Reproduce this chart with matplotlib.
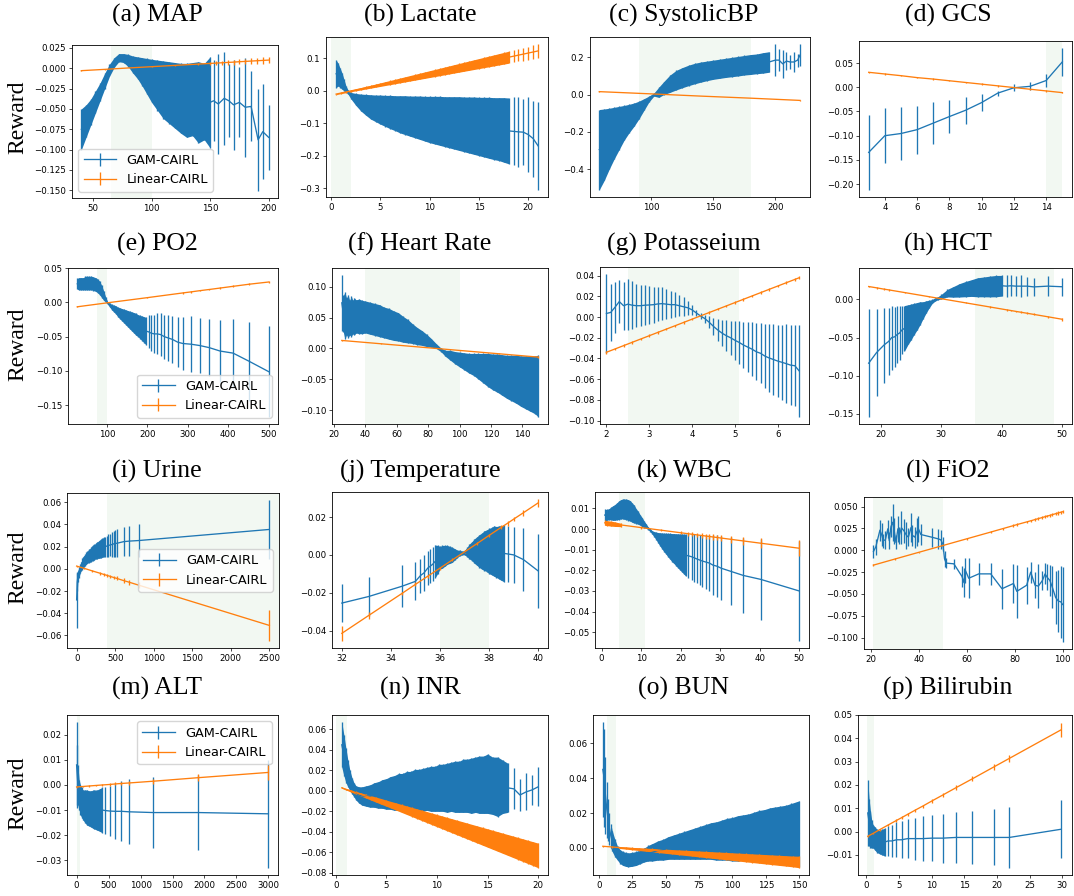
import numpy as np
import matplotlib
matplotlib.use("Agg")
import matplotlib.pyplot as plt

W, H, DPI = 1074, 896, 100
BLUE, ORANGE = "#1f77b4", "#ff7f0e"
SERIF = ["Liberation Serif", "DejaVu Serif"]

# ---------------- data ----------------
# (a) MAP
map_x = [40, 44, 48, 52, 56, 60, 64, 68, 72, 76, 80, 84, 88, 92, 96, 100, 105, 110, 115, 120,
         125, 130, 135, 140, 145, 150, 153, 157, 162, 166, 170, 175, 180, 185, 191, 195, 200]
map_mean = [-0.075, -0.065, -0.054, -0.0415, -0.029, -0.0155, -0.0025, 0.007, 0.013, 0.0125,
            0.0095, 0.0045, 0.0005, -0.0045, -0.010, -0.0155, -0.021, -0.0265, -0.030, -0.0335,
            -0.037, -0.0395, -0.038, -0.042, -0.041, -0.042, -0.040, -0.044, -0.037, -0.040,
            -0.045, -0.042, -0.048, -0.047, -0.088, -0.078, -0.085]
map_err = [0.025, 0.020, 0.016, 0.0135, 0.011, 0.0095, 0.0075, 0.006, 0.005, 0.0055,
           0.0075, 0.0105, 0.0135, 0.0175, 0.022, 0.0265, 0.031, 0.0355, 0.038, 0.0405,
           0.043, 0.0455, 0.045, 0.050, 0.047, 0.056, 0.050, 0.061, 0.057, 0.045,
           0.055, 0.043, 0.061, 0.043, 0.063, 0.058, 0.040]
map_lin_x = [40, 60, 80, 100, 120, 140, 150, 155, 160, 165, 170, 175, 180, 185, 190, 195, 200]
map_lin_y = [-0.003, -0.0014, 0.0003, 0.0019, 0.0035, 0.0051, 0.0059, 0.0063, 0.0067, 0.0071,
             0.0075, 0.0080, 0.0084, 0.0088, 0.0092, 0.0096, 0.0100]
map_lin_err = [0.0005, 0.0005, 0.0005, 0.0006, 0.0008, 0.0012, 0.002, 0.0022, 0.0025, 0.0027,
               0.003, 0.003, 0.0032, 0.0034, 0.0036, 0.0038, 0.004]

# (b) Lactate
lac_x = [0.5, 0.7, 0.9, 1.1, 1.3, 1.5, 1.7, 2.0, 2.5, 3, 3.5, 4, 4.5, 5, 5.5, 6, 6.5, 7, 7.5, 8,
         8.5, 9, 9.5, 10, 10.5, 11, 11.5, 12, 12.5, 13, 13.5, 14, 14.5, 15, 15.5, 16, 16.5, 17,
         17.5, 18, 18.5, 19, 19.5, 20, 20.5, 21]
lac_mean = [0.0525, 0.05, 0.04, 0.03, 0.0175, 0.005, -0.0035, -0.015, -0.0265, -0.036,
            -0.043, -0.0495, -0.054, -0.058, -0.062, -0.0655, -0.069, -0.0725, -0.075, -0.078,
            -0.0805, -0.083, -0.086, -0.0885, -0.0905, -0.0925, -0.095, -0.097, -0.099, -0.101,
            -0.1035, -0.1055, -0.1075, -0.110, -0.112, -0.114, -0.1165, -0.118, -0.1205, -0.1235,
            -0.125, -0.1265, -0.1275, -0.135, -0.1475, -0.17]
lac_err = [0.0425, 0.035, 0.03, 0.025, 0.0175, 0.01, 0.0065, 0.010, 0.0185, 0.026,
           0.032, 0.0375, 0.041, 0.045, 0.048, 0.0515, 0.054, 0.0575, 0.060, 0.062,
           0.0645, 0.067, 0.069, 0.0715, 0.0735, 0.0755, 0.077, 0.079, 0.081, 0.083,
           0.0845, 0.0865, 0.0885, 0.090, 0.092, 0.094, 0.0955, 0.097, 0.0995, 0.1015,
           0.105, 0.1085, 0.1025, 0.115, 0.1175, 0.135]
lac_lin_x = [0.5, 1.0, 1.5, 2.0, 2.5, 3.0, 3.5, 4.0, 4.5, 5.0, 5.5, 6.0, 6.5, 7.0, 7.5, 8.0,
             8.5, 9.0, 9.5, 10.0, 10.5, 11.0, 11.5, 12.0, 12.5, 13.0, 13.5, 14.0, 14.5, 15.0,
             15.5, 16.0, 16.5, 17.0, 17.5, 18.0, 18.5, 19.0, 19.5, 20.0, 20.5, 21.0]
lac_lin_y = [-0.0100, -0.0068, -0.0035, -0.0003, 0.0030, 0.0062, 0.0095, 0.0127, 0.0160, 0.0192,
             0.0225, 0.0257, 0.0289, 0.0322, 0.0354, 0.0387, 0.0419, 0.0452, 0.0484, 0.0517,
             0.0549, 0.0581, 0.0614, 0.0646, 0.0679, 0.0711, 0.0744, 0.0776, 0.0809, 0.0841,
             0.0874, 0.0906, 0.0938, 0.0971, 0.1003, 0.1036, 0.1068, 0.1101, 0.1133, 0.1166,
             0.1198, 0.1231]
lac_lin_err = [0.0015, 0.0018, 0.0022, 0.0026, 0.003, 0.0035, 0.004, 0.0045, 0.005, 0.0055,
               0.006, 0.0065, 0.007, 0.0075, 0.008, 0.0085, 0.009, 0.0095, 0.010, 0.0105,
               0.011, 0.0115, 0.012, 0.0125, 0.013, 0.0135, 0.014, 0.0145, 0.015, 0.0155,
               0.016, 0.0165, 0.017, 0.0175, 0.018, 0.0185, 0.019, 0.0195, 0.0198, 0.020,
               0.0202, 0.0205]

# (c) SystolicBP
sbp_x = [58, 62, 66, 70, 74, 78, 82, 86, 90, 94, 98, 102, 106, 110, 115, 120, 125, 130, 135, 140,
         145, 150, 155, 160, 165, 170, 175, 180, 185, 190, 195, 200, 203, 206, 209, 212, 215, 218, 220]
sbp_mean = [-0.295, -0.2685, -0.2365, -0.2065, -0.179, -0.1515, -0.1285, -0.1075, -0.0825, -0.0535,
            -0.024, 0.0, 0.0125, 0.035, 0.0585, 0.0775, 0.091, 0.103, 0.113, 0.121,
            0.1275, 0.1335, 0.1385, 0.1435, 0.148, 0.1525, 0.1575, 0.1615, 0.165, 0.17,
            0.175, 0.185, 0.185, 0.165, 0.18, 0.175, 0.175, 0.185, 0.2125]
sbp_err = [0.215, 0.1915, 0.1635, 0.1385, 0.116, 0.0935, 0.0765, 0.0625, 0.0475, 0.0315,
           0.016, 0.008, 0.0275, 0.035, 0.0465, 0.0525, 0.054, 0.055, 0.055, 0.054,
           0.0525, 0.0515, 0.0515, 0.0515, 0.052, 0.0525, 0.0525, 0.0535, 0.053, 0.055,
           0.055, 0.085, 0.06, 0.075, 0.05, 0.035, 0.055, 0.035, 0.0575]
sbp_lin_x = [58, 100, 140, 180, 220]
sbp_lin_y = [0.016, 0.004, -0.008, -0.019, -0.031]
sbp_lin_err = [0.001, 0.001, 0.001, 0.001, 0.0015]

# (d) GCS
gcs_x = [3, 4, 5, 6, 7, 8, 9, 10, 11, 12, 13, 14, 15]
gcs_mean = [-0.1345, -0.100, -0.0955, -0.0875, -0.074, -0.0605, -0.0475, -0.0315, -0.012,
            -0.001, 0.002, 0.014, 0.0525]
gcs_err = [0.0775, 0.057, 0.0545, 0.0495, 0.043, 0.0345, 0.0275, 0.0185, 0.005, 0.007,
           0.008, 0.014, 0.0285]
gcs_lin_x = [3, 4, 5, 6, 7, 8, 9, 10, 11, 12, 13, 14, 15]
gcs_lin_y = [0.031, 0.0275, 0.024, 0.020, 0.017, 0.0135, 0.010, 0.0065, 0.003, -0.0005,
             -0.004, -0.0075, -0.011]
gcs_lin_err = [0.0015, 0.0015, 0.0015, 0.0015, 0.0015, 0.0015, 0.0015, 0.0015, 0.0015,
               0.0015, 0.0015, 0.0015, 0.0015]

# (e) PO2
po2_x = [27, 32, 37, 42, 47, 52, 57, 62, 67, 72, 77, 82, 87, 92, 97, 102, 107, 112, 117, 122,
         127, 132, 137, 142, 147, 152, 157, 162, 167, 172, 177, 182, 187, 192, 197, 203, 210,
         217, 225, 233, 242, 252, 262, 275, 288, 308, 330, 353, 380, 412, 452, 500]
po2_mean = [0.027, 0.027, 0.027, 0.027, 0.028, 0.028, 0.028, 0.028, 0.027, 0.026,
            0.024, 0.021, 0.016, 0.010, 0.004, -0.001, -0.004, -0.007, -0.009, -0.011,
            -0.014, -0.016, -0.018, -0.020, -0.022, -0.024, -0.026, -0.028, -0.030, -0.032,
            -0.034, -0.036, -0.038, -0.040, -0.042, -0.043, -0.045, -0.046, -0.046, -0.047,
            -0.050, -0.052, -0.054, -0.058, -0.060, -0.061, -0.063, -0.066, -0.071, -0.074,
            -0.086, -0.101]
po2_err = [0.008, 0.009, 0.009, 0.009, 0.010, 0.010, 0.010, 0.010, 0.010, 0.010,
           0.010, 0.010, 0.009, 0.007, 0.004, 0.002, 0.003, 0.004, 0.005, 0.006,
           0.007, 0.008, 0.009, 0.010, 0.011, 0.012, 0.013, 0.014, 0.015, 0.016,
           0.016, 0.017, 0.018, 0.019, 0.020, 0.024, 0.026, 0.028, 0.030, 0.031,
           0.032, 0.033, 0.034, 0.036, 0.038, 0.041, 0.040, 0.042, 0.045, 0.050,
           0.058, 0.066]
po2_lin_x = [27, 100, 200, 288, 308, 330, 353, 380, 412, 452, 500]
po2_lin_y = [-0.0065, -0.0008, 0.0068, 0.0137, 0.0152, 0.0170, 0.0187, 0.0208, 0.0233,
             0.0264, 0.0296]
po2_lin_err = [0.0005, 0.0005, 0.0008, 0.001, 0.001, 0.001, 0.0012, 0.0012, 0.0013, 0.0014, 0.0016]

# (f) Heart Rate
hr_x = [25, 26, 27, 28, 29, 30, 31, 32, 33, 34, 36, 38, 40, 43, 46, 49, 52, 55, 58, 61,
        64, 67, 70, 73, 76, 79, 82, 85, 88, 91, 94, 97, 100, 103, 106, 109, 112, 115, 118, 121,
        124, 127, 130, 133, 136, 139, 142, 145, 148, 150]
hr_mean = [0.074, 0.056, 0.053, 0.052, 0.052, 0.050, 0.052, 0.051, 0.052, 0.052,
           0.052, 0.051, 0.051, 0.049, 0.047, 0.045, 0.042, 0.040, 0.037, 0.035,
           0.031, 0.028, 0.024, 0.020, 0.017, 0.013, 0.009, 0.004, -0.002, -0.008,
           -0.011, -0.015, -0.018, -0.021, -0.024, -0.026, -0.029, -0.032, -0.035, -0.038,
           -0.040, -0.043, -0.046, -0.048, -0.050, -0.053, -0.055, -0.057, -0.059, -0.061]
hr_err = [0.045, 0.030, 0.038, 0.030, 0.035, 0.028, 0.033, 0.027, 0.030, 0.027,
          0.028, 0.027, 0.026, 0.026, 0.026, 0.026, 0.025, 0.025, 0.024, 0.023,
          0.021, 0.019, 0.016, 0.014, 0.012, 0.010, 0.007, 0.004, 0.003, 0.005,
          0.008, 0.010, 0.012, 0.014, 0.016, 0.018, 0.021, 0.024, 0.027, 0.029,
          0.031, 0.033, 0.035, 0.037, 0.039, 0.041, 0.043, 0.045, 0.047, 0.050]
hr_lin_x = [25, 50, 75, 100, 125, 150]
hr_lin_y = [0.013, 0.0076, 0.0022, -0.0032, -0.0086, -0.014]
hr_lin_err = [0.0008, 0.0006, 0.0005, 0.0006, 0.0008, 0.0012]

# (g) Potasseium
k_x = [2.0, 2.1, 2.2, 2.3, 2.4, 2.5, 2.6, 2.7, 2.8, 2.9, 3.0, 3.1, 3.2, 3.3, 3.4, 3.5, 3.6,
       3.7, 3.8, 3.9, 4.0, 4.1, 4.2, 4.3, 4.4, 4.5, 4.6, 4.7, 4.8, 4.9, 5.0, 5.1, 5.2, 5.3,
       5.4, 5.5, 5.6, 5.7, 5.8, 5.9, 6.0, 6.1, 6.2, 6.3, 6.4, 6.5]
k_mean = [0.0035, 0.0045, 0.0095, 0.015, 0.011, 0.0125, 0.0115, 0.011, 0.011, 0.0115,
          0.0117, 0.012, 0.0127, 0.013, 0.0125, 0.012, 0.012, 0.011, 0.010, 0.009,
          0.007, 0.004, 0.001, -0.0015, -0.005, -0.009, -0.0125, -0.0155, -0.018, -0.020,
          -0.0224, -0.0245, -0.027, -0.029, -0.031, -0.0335, -0.035, -0.0377, -0.0395, -0.041,
          -0.0425, -0.0437, -0.045, -0.0464, -0.047, -0.052]
k_err = [0.038, 0.0275, 0.0245, 0.0205, 0.023, 0.0245, 0.023, 0.021, 0.020, 0.0195,
         0.0187, 0.0175, 0.0165, 0.0158, 0.0145, 0.013, 0.012, 0.010, 0.009, 0.007,
         0.005, 0.003, 0.003, 0.004, 0.006, 0.0085, 0.0105, 0.0125, 0.015, 0.0167,
         0.0187, 0.0205, 0.022, 0.024, 0.026, 0.0275, 0.029, 0.031, 0.0325, 0.034,
         0.035, 0.0363, 0.038, 0.0384, 0.039, 0.0444]
k_lin_x = [2.0, 2.2, 2.4, 2.6, 2.8, 3.0, 3.2, 3.4, 3.6, 3.8, 4.0, 4.2, 4.4, 4.6, 4.8, 5.0,
           5.2, 5.4, 5.6, 5.8, 6.0, 6.2, 6.4, 6.5]
k_lin_y = [-0.034, -0.0308, -0.0276, -0.0244, -0.0212, -0.018, -0.0148, -0.0116, -0.0084,
           -0.0052, -0.002, 0.0012, 0.0044, 0.0076, 0.0108, 0.014, 0.0172, 0.0204, 0.0236,
           0.0268, 0.030, 0.0332, 0.0364, 0.038]
k_lin_err = [0.0012, 0.0012, 0.0012, 0.0012, 0.0012, 0.0012, 0.0012, 0.0012, 0.0012, 0.0012,
             0.0012, 0.0012, 0.0012, 0.0012, 0.0012, 0.0012, 0.0012, 0.0012, 0.0012, 0.0012,
             0.0012, 0.0012, 0.0012, 0.0015]

# (h) HCT
hct_x = [18, 19.3, 20.5, 21.3, 21.8, 22.3, 22.7, 23.1, 23.5, 23.9, 24.5, 25, 25.5, 26, 26.5,
         27, 27.5, 28, 28.5, 29, 29.5, 30, 31, 32, 33, 34, 35, 36, 37, 38, 39, 40, 40.8, 41.5,
         42.3, 43.2, 44.2, 45.3, 47.6, 50]
hct_mean = [-0.0836, -0.0697, -0.060, -0.055, -0.050, -0.049, -0.046, -0.044, -0.040, -0.038,
            -0.033, -0.0295, -0.0255, -0.022, -0.018, -0.014, -0.0097, -0.006, -0.0026, 0.0,
            0.0018, 0.0037, 0.0083, 0.010, 0.012, 0.0136, 0.015, 0.016, 0.0165, 0.017,
            0.0175, 0.018, 0.0175, 0.018, 0.0175, 0.0175, 0.0175, 0.0165, 0.0175, 0.0167]
hct_err = [0.0705, 0.0575, 0.049, 0.044, 0.042, 0.039, 0.037, 0.035, 0.032, 0.030,
           0.026, 0.0235, 0.0205, 0.018, 0.015, 0.011, 0.008, 0.005, 0.0026, 0.002,
           0.002, 0.003, 0.005, 0.007, 0.0088, 0.010, 0.011, 0.0125, 0.013, 0.0136,
           0.014, 0.0136, 0.014, 0.014, 0.013, 0.014, 0.0123, 0.012, 0.0135, 0.0116]
hct_lin_x = [18, 19.3, 20.5, 21.3, 24, 28, 30, 34, 38, 40.8, 41.5, 42.3, 43.2, 44.2, 45.3, 47.6, 50]
hct_lin_y = [0.017, 0.0153, 0.0136, 0.0126, 0.009, 0.0036, 0.001, -0.0044, -0.0098, -0.0136,
             -0.0145, -0.0156, -0.0168, -0.0181, -0.0196, -0.0227, -0.026]
hct_lin_err = [0.0012, 0.001, 0.001, 0.001, 0.0008, 0.0006, 0.0006, 0.0007, 0.0009, 0.001,
               0.001, 0.001, 0.0011, 0.0012, 0.0012, 0.0014, 0.0018]

# (i) Urine
ur_x = [0, 8, 16, 25, 35, 45, 55, 65, 75, 85, 95, 110, 125, 140, 155, 170, 185, 200, 215, 230,
        245, 260, 275, 290, 305, 320, 335, 350, 370, 390, 410, 435, 460, 480, 500, 520, 610,
        683, 805, 2500]
ur_mean = [-0.028, -0.012, -0.007, -0.004, -0.002, 0.000, 0.002, 0.003, 0.005, 0.006,
           0.007, 0.008, 0.0095, 0.0105, 0.0115, 0.012, 0.013, 0.014, 0.0145, 0.015,
           0.016, 0.0165, 0.017, 0.0175, 0.018, 0.0185, 0.019, 0.0195, 0.020, 0.0205,
           0.021, 0.0215, 0.022, 0.0225, 0.023, 0.023, 0.0245, 0.025, 0.0255, 0.0355]
ur_err = [0.025, 0.008, 0.005, 0.004, 0.004, 0.004, 0.004, 0.004, 0.005, 0.005,
          0.005, 0.005, 0.0055, 0.0055, 0.006, 0.006, 0.0065, 0.0065, 0.007, 0.007,
          0.007, 0.0075, 0.0075, 0.008, 0.008, 0.0085, 0.0085, 0.009, 0.009, 0.0095,
          0.010, 0.010, 0.011, 0.0115, 0.012, 0.0125, 0.013, 0.0135, 0.015, 0.0265]
ur_lin_x = [0, 100, 200, 305, 350, 390, 435, 480, 520, 610, 683, 805, 2500]
ur_lin_y = [0.0025, 0.0004, -0.0018, -0.004, -0.005, -0.0058, -0.0068, -0.0078, -0.0086,
            -0.0106, -0.0121, -0.0147, -0.051]
ur_lin_err = [0.0005, 0.0005, 0.001, 0.0012, 0.0013, 0.0014, 0.0015, 0.0016, 0.0017, 0.002,
              0.0022, 0.0025, 0.014]

# (j) Temperature
tmp_x = [32, 33.1, 34.45, 35, 35.2, 35.35, 35.5, 35.6, 35.7, 35.8, 35.9, 36.0, 36.1, 36.2,
         36.3, 36.4, 36.5, 36.6, 36.7, 36.8, 36.9, 37.0, 37.1, 37.2, 37.3, 37.4, 37.5, 37.6,
         37.7, 37.8, 37.9, 38.0, 38.1, 38.2, 38.3, 38.4, 38.5, 38.6, 38.75, 39.0, 39.4, 40]
tmp_mean = [-0.0255, -0.022, -0.0166, -0.014, -0.011, -0.0095, -0.007, -0.006, -0.005, -0.0035,
            -0.0025, -0.0015, -0.001, -0.0005, 0.0, 0.0, 0.0, 0.0003, 0.0005, 0.001,
            0.001, 0.0012, 0.0015, 0.0018, 0.002, 0.002, 0.002, 0.002, 0.002, 0.0022,
            0.0022, 0.002, 0.002, 0.002, 0.0015, 0.0013, 0.001, 0.0008, 0.0005, 0.0,
            -0.0025, -0.0085]
tmp_err = [0.010, 0.0105, 0.011, 0.010, 0.009, 0.0095, 0.009, 0.009, 0.009, 0.0087,
           0.0075, 0.006, 0.006, 0.0055, 0.005, 0.0045, 0.004, 0.003, 0.002, 0.0015,
           0.001, 0.0012, 0.0025, 0.004, 0.005, 0.0065, 0.0075, 0.0087, 0.0095, 0.0105,
           0.011, 0.012, 0.0125, 0.0133, 0.0135, 0.014, 0.0145, 0.015, 0.015, 0.015,
           0.0165, 0.0195]
tmp_lin_x = [32, 33.1, 34.45, 35, 35.5, 36, 36.5, 37, 37.5, 38, 38.5, 38.75, 39, 39.4, 40]
tmp_lin_y = [-0.0415, -0.032, -0.0204, -0.0156, -0.0113, -0.007, -0.0027, 0.0016, 0.0059,
             0.0103, 0.0146, 0.0167, 0.0189, 0.0223, 0.0275]
tmp_lin_err = [0.004, 0.002, 0.001, 0.001, 0.0008, 0.0008, 0.0008, 0.0008, 0.0008, 0.001,
               0.001, 0.0012, 0.0012, 0.0015, 0.002]

# (k) WBC
wbc_x = [0.8, 1.3, 1.8, 2.3, 2.8, 3.3, 3.8, 4.3, 4.8, 5.3, 5.8, 6.3, 6.8, 7.3, 7.8, 8.3, 8.8,
         9.3, 9.8, 10.3, 10.8, 11.3, 11.8, 12.3, 12.8, 13.3, 13.8, 14.3, 14.8, 15.3, 15.8, 16.3,
         16.8, 17.3, 17.8, 18.3, 18.8, 19.3, 19.8, 20.3, 20.8, 21.3, 22, 22.9, 23.5, 24.1, 24.8,
         25.5, 26.4, 27.3, 28.2, 29.2, 30.3, 32.7, 35.9, 40.3, 50]
wbc_mean = [0.00675, 0.00685, 0.00715, 0.0075, 0.0077, 0.008, 0.0085, 0.00905, 0.0095, 0.00975,
            0.0096, 0.0095, 0.00915, 0.00875, 0.00785, 0.0072, 0.00615, 0.0054, 0.0043, 0.00335,
            0.00225, 0.0014, 0.00035, -0.0005, -0.00165, -0.0025, -0.00335, -0.00425, -0.00505,
            -0.0058, -0.0065, -0.0071, -0.0078, -0.00835, -0.009, -0.00945, -0.01005, -0.01055,
            -0.0111, -0.0116, -0.01215, -0.01265, -0.013, -0.0135, -0.014, -0.0145, -0.015,
            -0.0155, -0.016, -0.0165, -0.0175, -0.018, -0.019, -0.0205, -0.0225, -0.0244, -0.030]
wbc_err = [0.00275, 0.00265, 0.00265, 0.003, 0.0035, 0.0038, 0.0041, 0.00445, 0.0047, 0.00475,
           0.0049, 0.005, 0.00505, 0.00495, 0.00465, 0.0043, 0.00355, 0.0031, 0.0025, 0.00215,
           0.00155, 0.0011, 0.00065, 0.0007, 0.00085, 0.0013, 0.00185, 0.00255, 0.00325,
           0.0039, 0.0045, 0.0051, 0.0057, 0.00625, 0.0068, 0.00725, 0.00775, 0.00825,
           0.0087, 0.0092, 0.00965, 0.01015, 0.0105, 0.011, 0.0115, 0.0117, 0.012,
           0.0128, 0.013, 0.0135, 0.0147, 0.015, 0.0155, 0.0165, 0.018, 0.0195, 0.0242]
wbc_lin_x = [0.8, 1.5, 2.5, 3.5, 5, 10, 15, 20, 22, 22.9, 24.1, 25.5, 26.4, 27.3, 28.2, 29.2,
             30.3, 32.7, 35.9, 40.3, 50]
wbc_lin_y = [0.003, 0.00283, 0.00258, 0.00233, 0.00195, 0.0007, -0.00055, -0.0018, -0.0023,
             -0.00253, -0.00283, -0.00318, -0.0034, -0.00363, -0.00385, -0.0041, -0.00438,
             -0.00498, -0.00578, -0.00688, -0.0093]
wbc_lin_err = [0.0012, 0.0012, 0.0012, 0.0011, 0.0008, 0.0006, 0.0006, 0.0008, 0.001, 0.001,
               0.0011, 0.0011, 0.0012, 0.0012, 0.0013, 0.0013, 0.0014, 0.0016, 0.002, 0.0024, 0.004]

# (l) FiO2
fio_x = [21, 22, 23.7, 24.4, 25.1, 26, 27, 27.6, 28.3, 29, 29.7, 30.4, 31.2, 31.8, 32.7, 33.8,
         34.8, 35.6, 36.7, 37.3, 38.3, 39, 39.8, 40.8, 45.3, 48.1, 49.1, 50, 50.7, 51.4, 54.6,
         58, 58.8, 59.4, 60.8, 65, 70, 74.7, 79.5, 80.9, 85, 86.7, 88.5, 89.9, 91.6, 92.7, 93.6,
         94.7, 95.7, 97.1, 98.2, 99.3, 100]
fio_mean = [-0.0015, 0.004, 0.023, 0.018, 0.011, 0.012, 0.0245, 0.011, 0.027, 0.032,
            0.022, 0.009, 0.0245, 0.017, 0.0257, 0.022, 0.017, 0.015, 0.026, 0.017,
            0.015, 0.0205, 0.0245, 0.018, 0.015, 0.013, 0.012, 0.007, -0.010, -0.0147,
            -0.0155, -0.030, -0.037, -0.023, -0.032, -0.027, -0.027, -0.044, -0.038, -0.047,
            -0.040, -0.025, -0.040, -0.041, -0.0345, -0.027, -0.031, -0.0345, -0.042, -0.054,
            -0.058, -0.059, -0.062]
fio_err = [0.007, 0.009, 0.012, 0.013, 0.008, 0.010, 0.010, 0.010, 0.012, 0.021,
           0.015, 0.008, 0.015, 0.010, 0.019, 0.014, 0.015, 0.010, 0.017, 0.012,
           0.012, 0.016, 0.015, 0.012, 0.011, 0.011, 0.011, 0.008, 0.0095, 0.0057,
           0.0057, 0.012, 0.017, 0.014, 0.0227, 0.013, 0.013, 0.023, 0.022, 0.030,
           0.021, 0.012, 0.015, 0.025, 0.011, 0.012, 0.015, 0.018, 0.024, 0.0305,
           0.035, 0.041, 0.043]
fio_lin_x = [21, 30, 40, 50, 60, 70, 75, 79.5, 80.9, 85, 86.7, 88.5, 89.9, 91.6, 92.7, 93.6,
             94.7, 95.7, 97.1, 98.2, 99.3, 100]
fio_lin_y = [-0.017, -0.010, -0.0023, 0.0054, 0.0131, 0.0208, 0.0247, 0.0282, 0.0293, 0.0324,
             0.0337, 0.0351, 0.0362, 0.0375, 0.0384, 0.0391, 0.0399, 0.0407, 0.0418, 0.0426,
             0.0435, 0.044]
fio_lin_err = [0.0008, 0.0008, 0.0008, 0.0008, 0.0008, 0.001, 0.0012, 0.0013, 0.0013, 0.0014,
               0.0014, 0.0015, 0.0015, 0.0015, 0.0016, 0.0016, 0.0016, 0.0017, 0.0017, 0.0018,
               0.0018, 0.0019]

# (m) ALT
alt_x = [0, 10, 20, 40, 60, 80, 100, 130, 160, 190, 220, 250, 280, 320, 360, 400, 450, 520,
         600, 700, 820, 1200, 1900, 3000]
alt_mean = [0.008, 0.004, 0.0, -0.004, -0.006, -0.007, -0.008, -0.0085, -0.009, -0.0093,
            -0.0095, -0.0097, -0.0098, -0.010, -0.010, -0.010, -0.0102, -0.0104, -0.0105,
            -0.0105, -0.0107, -0.011, -0.011, -0.0115]
alt_err = [0.017, 0.012, 0.008, 0.006, 0.006, 0.006, 0.006, 0.0065, 0.007, 0.007,
           0.0072, 0.0075, 0.0078, 0.008, 0.0085, 0.009, 0.0095, 0.010, 0.011, 0.012,
           0.013, 0.014, 0.015, 0.0215]
alt_lin_x = [0, 100, 200, 300, 400, 520, 600, 700, 820, 1200, 1900, 3000]
alt_lin_y = [-0.0008, -0.0006, -0.0004, -0.0002, 0.0, 0.0002, 0.0004, 0.0006, 0.0008, 0.0015,
             0.0029, 0.005]
alt_lin_err = [0.0003, 0.0003, 0.0003, 0.0003, 0.0004, 0.0005, 0.0006, 0.0007, 0.0008, 0.001,
               0.0015, 0.003]

# (n) INR
inr_x = [0.6, 0.8, 1.0, 1.2, 1.4, 1.6, 1.8, 2.0, 2.3, 2.6, 3.0, 3.4, 3.8, 4.2, 4.6, 5.0, 5.4,
         5.8, 6.2, 6.6, 7.0, 7.4, 7.8, 8.2, 8.6, 9.0, 9.4, 9.8, 10.2, 10.6, 11.0, 11.4, 11.8,
         12.2, 12.6, 13.0, 13.4, 13.8, 14.2, 14.6, 15.0, 15.5, 16.0, 16.5, 17.0, 17.6, 18.2,
         18.8, 19.4, 20.0]
inr_mean = [0.045, 0.035, 0.025, 0.017, 0.010, 0.005, 0.001, -0.002, -0.004, -0.005,
            -0.005, -0.005, -0.004, -0.004, -0.003, -0.003, -0.002, -0.002, -0.001, -0.001,
            0.000, 0.000, 0.001, 0.001, 0.001, 0.002, 0.002, 0.002, 0.003, 0.003,
            0.003, 0.004, 0.004, 0.004, 0.005, 0.005, 0.005, 0.006, 0.006, 0.006,
            0.007, 0.005, 0.004, 0.004, 0.003, 0.002, -0.004, -0.001, 0.001, 0.004]
inr_err = [0.022, 0.020, 0.017, 0.013, 0.010, 0.008, 0.007, 0.007, 0.008, 0.009,
           0.010, 0.011, 0.012, 0.013, 0.014, 0.015, 0.016, 0.017, 0.018, 0.018,
           0.019, 0.019, 0.020, 0.020, 0.021, 0.021, 0.022, 0.022, 0.023, 0.023,
           0.024, 0.024, 0.025, 0.025, 0.026, 0.026, 0.027, 0.027, 0.028, 0.028,
           0.029, 0.028, 0.029, 0.026, 0.024, 0.020, 0.016, 0.018, 0.015, 0.019]
inr_lin_x = [0.6, 1.0, 1.5, 2.0, 2.5, 3.0, 3.5, 4.0, 4.5, 5.0, 5.5, 6.0, 6.5, 7.0, 7.5, 8.0,
             8.5, 9.0, 9.5, 10.0, 10.5, 11.0, 11.5, 12.0, 12.5, 13.0, 13.5, 14.0, 14.5, 15.0,
             15.5, 16.0, 16.5, 17.0, 17.5, 18.0, 18.5, 19.0, 19.5, 20.0]
inr_lin_y = [0.003, 0.0016, -0.0001, -0.0018, -0.0035, -0.0052, -0.0069, -0.0086, -0.0103,
             -0.012, -0.0137, -0.0154, -0.0171, -0.0188, -0.0205, -0.0222, -0.0239, -0.0256,
             -0.0273, -0.029, -0.0307, -0.0324, -0.0341, -0.0358, -0.0375, -0.0392, -0.0409,
             -0.0426, -0.0443, -0.046, -0.0477, -0.0494, -0.0511, -0.0528, -0.0545, -0.0562,
             -0.0579, -0.0596, -0.0613, -0.063]
inr_lin_err = [0.0005, 0.0007, 0.001, 0.0013, 0.0016, 0.0019, 0.0022, 0.0025, 0.0028, 0.003,
               0.0033, 0.0036, 0.0039, 0.0042, 0.0045, 0.0048, 0.0051, 0.0054, 0.0057, 0.006,
               0.0063, 0.0066, 0.0069, 0.0072, 0.0075, 0.0078, 0.0081, 0.0084, 0.0087, 0.009,
               0.0093, 0.0096, 0.0099, 0.0102, 0.0105, 0.0108, 0.0111, 0.0114, 0.0117, 0.012]

# (o) BUN
bun_x = [3, 4, 5, 6, 7, 8, 9, 10, 12, 14, 16, 18, 20, 22, 25, 28, 31, 34, 37, 40, 44, 48, 52,
         56, 60, 64, 68, 72, 76, 80, 84, 88, 92, 96, 100, 104, 108, 112, 116, 120, 124, 128,
         132, 136, 140, 144, 148, 150]
bun_mean = [0.045, 0.04, 0.03, 0.022, 0.016, 0.011, 0.007, 0.004, 0.0, -0.003,
            -0.005, -0.006, -0.0065, -0.0068, -0.0065, -0.006, -0.005, -0.004, -0.003, -0.0025,
            -0.0015, -0.001, 0.0, 0.0005, 0.001, 0.0015, 0.002, 0.0025, 0.003, 0.0035,
            0.004, 0.004, 0.0045, 0.005, 0.005, 0.0055, 0.006, 0.006, 0.0065, 0.007,
            0.007, 0.0075, 0.0075, 0.008, 0.008, 0.0085, 0.009, 0.008]
bun_err = [0.027, 0.028, 0.022, 0.016, 0.012, 0.009, 0.007, 0.006, 0.005, 0.004,
           0.004, 0.004, 0.004, 0.004, 0.004, 0.004, 0.004, 0.004, 0.0045, 0.005,
           0.0055, 0.006, 0.0065, 0.007, 0.0075, 0.008, 0.0085, 0.009, 0.0095, 0.010,
           0.0105, 0.011, 0.0115, 0.012, 0.0125, 0.013, 0.013, 0.0135, 0.014, 0.0145,
           0.015, 0.0155, 0.016, 0.016, 0.0165, 0.017, 0.0175, 0.019]
bun_lin_x = [3, 10, 15, 20, 25, 30, 35, 40, 45, 50, 55, 60, 65, 70, 75, 80, 85, 90, 95, 100,
             105, 110, 115, 120, 125, 130, 135, 140, 145, 150]
bun_lin_y = [0.001, 0.00057, 0.00027, -0.00004, -0.00035, -0.00065, -0.00096, -0.00126,
             -0.00157, -0.00188, -0.00218, -0.00249, -0.00279, -0.0031, -0.00341, -0.00371,
             -0.00402, -0.00432, -0.00463, -0.00494, -0.00524, -0.00555, -0.00585, -0.00616,
             -0.00647, -0.00677, -0.00708, -0.00738, -0.00769, -0.008]
bun_lin_err = [0.0003, 0.0004, 0.0005, 0.0006, 0.0007, 0.0008, 0.0009, 0.001, 0.0011, 0.0012,
               0.0013, 0.0014, 0.0015, 0.0016, 0.0017, 0.0018, 0.0019, 0.002, 0.0021, 0.0022,
               0.0023, 0.0024, 0.0025, 0.0026, 0.0027, 0.0028, 0.0029, 0.003, 0.0031, 0.0033]

# (p) Bilirubin
bil_x = [0.2, 0.4, 0.6, 0.8, 1.0, 1.3, 1.6, 2.0, 2.4, 2.8, 3.3, 3.9, 4.6, 5.4, 6.3, 7.4, 8.6,
         10.0, 11.7, 13.7, 16.2, 19.5, 21.9, 29.8]
bil_mean = [0.008, 0.004, 0.001, -0.001, -0.002, -0.003, -0.004, -0.0045, -0.0045, -0.0045,
            -0.004, -0.004, -0.0035, -0.0035, -0.003, -0.003, -0.003, -0.0028, -0.0028,
            -0.0025, -0.0025, -0.0025, -0.0025, 0.001]
bil_err = [0.014, 0.010, 0.008, 0.006, 0.005, 0.005, 0.005, 0.005, 0.0055, 0.006,
           0.0065, 0.007, 0.0075, 0.008, 0.0085, 0.009, 0.0095, 0.010, 0.0105, 0.011,
           0.0115, 0.012, 0.013, 0.0125]
bil_lin_x = [0.2, 1.0, 2.0, 3.3, 4.6, 5.4, 6.3, 7.4, 8.6, 10.0, 11.7, 13.7, 16.2, 19.5, 21.9, 29.8]
bil_lin_y = [-0.002, -0.0008, 0.0008, 0.0028, 0.0048, 0.006, 0.0074, 0.0091, 0.0109, 0.0131,
             0.0157, 0.0188, 0.0226, 0.0277, 0.0314, 0.0436]
bil_lin_err = [0.0003, 0.0003, 0.0004, 0.0004, 0.0005, 0.0005, 0.0006, 0.0006, 0.0007, 0.0008,
               0.0009, 0.001, 0.0011, 0.0013, 0.0015, 0.003]

# ---------------- panel layout ----------------
# box = (left, top, right, bottom) of the axes in pixels;
# dense / ldense = x range where the bars are packed so tightly they read as a band
panels = [
    dict(title="(a) MAP", gam=(map_x, map_mean, map_err), lin=(map_lin_x, map_lin_y, map_lin_err),
         span=(65, 100), box=(72, 45, 278, 198), xlim=(32, 208), dense=(35, 150), ldense=None,
         xt=[50, 100, 150, 200], yt=[0.025, 0.0, -0.025, -0.05, -0.075, -0.1, -0.125, -0.15],
         legend="lower left"),
    dict(title="(b) Lactate", gam=(lac_x, lac_mean, lac_err), lin=(lac_lin_x, lac_lin_y, lac_lin_err),
         span=(0, 2), box=(326, 37, 548, 197), xlim=(-0.53, 22.0), dense=(0, 18.3), ldense=(0, 18.3),
         xt=[0, 5, 10, 15, 20], yt=[0.1, 0.0, -0.1, -0.2, -0.3]),
    dict(title="(c) SystolicBP", gam=(sbp_x, sbp_mean, sbp_err), lin=(sbp_lin_x, sbp_lin_y, sbp_lin_err),
         span=(90, 180), box=(590, 37, 810, 197), xlim=(50.5, 228), dense=(50, 198), ldense=None,
         xt=[100, 150, 200], yt=[0.2, 0.0, -0.2, -0.4]),
    dict(title="(d) GCS", gam=(gcs_x, gcs_mean, gcs_err), lin=(gcs_lin_x, gcs_lin_y, gcs_lin_err),
         span=(14, 15), box=(859, 41, 1072, 197), xlim=(2.4, 15.6), dense=None, ldense=None,
         xt=[4, 6, 8, 10, 12, 14], yt=[0.05, 0.0, -0.05, -0.1, -0.15, -0.2]),
    dict(title="(e) PO2", gam=(po2_x, po2_mean, po2_err), lin=(po2_lin_x, po2_lin_y, po2_lin_err),
         span=(75, 100), box=(68, 268, 278, 424), xlim=(4, 523), dense=(20, 199), ldense=None,
         xt=[100, 200, 300, 400, 500], yt=[0.05, 0.0, -0.05, -0.1, -0.15], legend="lower right"),
    dict(title="(f) Heart Rate", gam=(hr_x, hr_mean, hr_err), lin=(hr_lin_x, hr_lin_y, hr_lin_err),
         span=(40, 100), box=(332, 268, 548, 424), xlim=(18.75, 156.25), dense=(25.5, 160), ldense=None,
         xt=[20, 40, 60, 80, 100, 120, 140], yt=[0.1, 0.05, 0.0, -0.05, -0.1]),
    dict(title="(g) Potasseium", gam=(k_x, k_mean, k_err), lin=(k_lin_x, k_lin_y, k_lin_err),
         span=(2.5, 5.1), box=(600, 267, 809, 424), xlim=(1.85, 6.73), dense=None, ldense=None,
         xt=[2, 3, 4, 5, 6], yt=[0.04, 0.02, 0.0, -0.02, -0.04, -0.06, -0.08, -0.1]),
    dict(title="(h) HCT", gam=(hct_x, hct_mean, hct_err), lin=(hct_lin_x, hct_lin_y, hct_lin_err),
         span=(35.5, 48.6), box=(859, 268, 1072, 424), xlim=(16.4, 51.6), dense=(23.7, 40.5), ldense=None,
         xt=[20, 30, 40, 50], yt=[0.0, -0.05, -0.1, -0.15]),
    dict(title="(i) Urine", gam=(ur_x, ur_mean, ur_err), lin=(ur_lin_x, ur_lin_y, ur_lin_err),
         span=(400, 3000), box=(67, 493, 279, 648), xlim=(-125, 2625), dense=(5, 360), ldense=None,
         xt=[0, 500, 1000, 1500, 2000, 2500], yt=[0.06, 0.04, 0.02, 0.0, -0.02, -0.04, -0.06],
         legend="center right"),
    dict(title="(j) Temperature", gam=(tmp_x, tmp_mean, tmp_err), lin=(tmp_lin_x, tmp_lin_y, tmp_lin_err),
         span=(36, 38), box=(332, 492, 548, 648), xlim=(31.6, 40.4), dense=(35.75, 38.65), ldense=None,
         xt=[32, 34, 36, 38, 40], yt=[0.02, 0.0, -0.02, -0.04]),
    dict(title="(k) WBC", gam=(wbc_x, wbc_mean, wbc_err), lin=(wbc_lin_x, wbc_lin_y, wbc_lin_err),
         span=(4.5, 11), box=(595, 492, 809, 648), xlim=(-1.66, 52.5), dense=(0, 21.5), ldense=(0, 5.5),
         xt=[0, 10, 20, 30, 40, 50], yt=[0.01, 0.0, -0.01, -0.02, -0.03, -0.04, -0.05]),
    dict(title="(l) FiO2", gam=(fio_x, fio_mean, fio_err), lin=(fio_lin_x, fio_lin_y, fio_lin_err),
         span=(21, 50), box=(864, 497, 1072, 649), xlim=(17.05, 103.95), dense=None, ldense=None,
         xt=[20, 40, 60, 80, 100], yt=[0.05, 0.025, 0.0, -0.025, -0.05, -0.075, -0.1]),
    dict(title="(m) ALT", gam=(alt_x, alt_mean, alt_err), lin=(alt_lin_x, alt_lin_y, alt_lin_err),
         span=(7, 56), box=(67, 715, 278, 875), xlim=(-150, 3150), dense=(15, 430), ldense=None,
         xt=[0, 500, 1000, 1500, 2000, 2500, 3000], yt=[0.02, 0.01, 0.0, -0.01, -0.02, -0.03],
         legend="upper right"),
    dict(title="(n) INR", gam=(inr_x, inr_mean, inr_err), lin=(inr_lin_x, inr_lin_y, inr_lin_err),
         span=(0, 1.1), box=(332, 715, 548, 875), xlim=(-0.37, 20.97), dense=(0, 17.2), ldense=(0, 21),
         xt=[0, 5, 10, 15, 20], yt=[0.06, 0.04, 0.02, 0.0, -0.02, -0.04, -0.06, -0.08]),
    dict(title="(o) BUN", gam=(bun_x, bun_mean, bun_err), lin=(bun_lin_x, bun_lin_y, bun_lin_err),
         span=(6, 13), box=(593, 715, 809, 875), xlim=(-4.35, 157.35), dense=(9, 160), ldense=(12, 160),
         xt=[0, 25, 50, 75, 100, 125, 150], yt=[0.06, 0.04, 0.02, 0.0]),
    dict(title="(p) Bilirubin", gam=(bil_x, bil_mean, bil_err), lin=(bil_lin_x, bil_lin_y, bil_lin_err),
         span=(0.1, 1.2), box=(858, 715, 1072, 875), xlim=(-1.3, 31.5), dense=(0, 3.0), ldense=None,
         xt=[0, 5, 10, 15, 20, 25, 30], yt=[0.05, 0.04, 0.03, 0.02, 0.01, 0.0, -0.01]),
]

title_x = [157, 420, 684, 948]
title_y = [15.5, 244, 471, 688]
reward_y = [117, 344, 567, 793]


def dense_band(ax, x, m, e, rng, color):
    # where the error bars sit shoulder to shoulder they read as one solid band
    if rng is None:
        return
    x, m, e = (np.asarray(v, float) for v in (x, m, e))
    sel = (x >= rng[0]) & (x <= rng[1])
    ax.fill_between(x[sel], (m - e)[sel], (m + e)[sel], color=color, lw=0, zorder=2)


fig = plt.figure(figsize=(W / DPI, H / DPI), dpi=DPI)

for i, p in enumerate(panels):
    row, col = divmod(i, 4)
    l, t, r, b = p["box"]
    ax = fig.add_axes([l / W, 1 - b / H, (r - l) / W, (b - t) / H])
    ax.axvspan(*p["span"], color="green", alpha=0.05, lw=0, zorder=0)

    gx, gm, ge = p["gam"]
    lx, lm, le = p["lin"]
    ax.errorbar(gx, gm, yerr=ge, color=BLUE, lw=0.95, elinewidth=0.95, label="GAM-CAIRL")
    dense_band(ax, gx, gm, ge, p["dense"], BLUE)
    ax.errorbar(lx, lm, yerr=le, color=ORANGE, lw=0.95, elinewidth=0.95, label="Linear-CAIRL")
    dense_band(ax, lx, lm, le, p["ldense"], ORANGE)

    ax.set_xlim(p["xlim"])
    ax.set_xticks(p["xt"])
    ax.set_yticks(p["yt"])
    ax.tick_params(labelsize=6.2, length=2.2, width=0.5, pad=2)
    for s in ax.spines.values():
        s.set_linewidth(0.6)

    if "legend" in p:
        ax.legend(loc=p["legend"], fontsize=9.3, handlelength=2.5)

    fig.text(title_x[col] / W, 1 - title_y[row] / H, p["title"], ha="center", va="center",
             fontsize=18.5, family=SERIF)
    if col == 0:
        fig.text(18 / W, 1 - reward_y[row] / H, "Reward", rotation=90, ha="center",
                 va="center", fontsize=17, family=SERIF)

fig.savefig("out.png", dpi=DPI)
